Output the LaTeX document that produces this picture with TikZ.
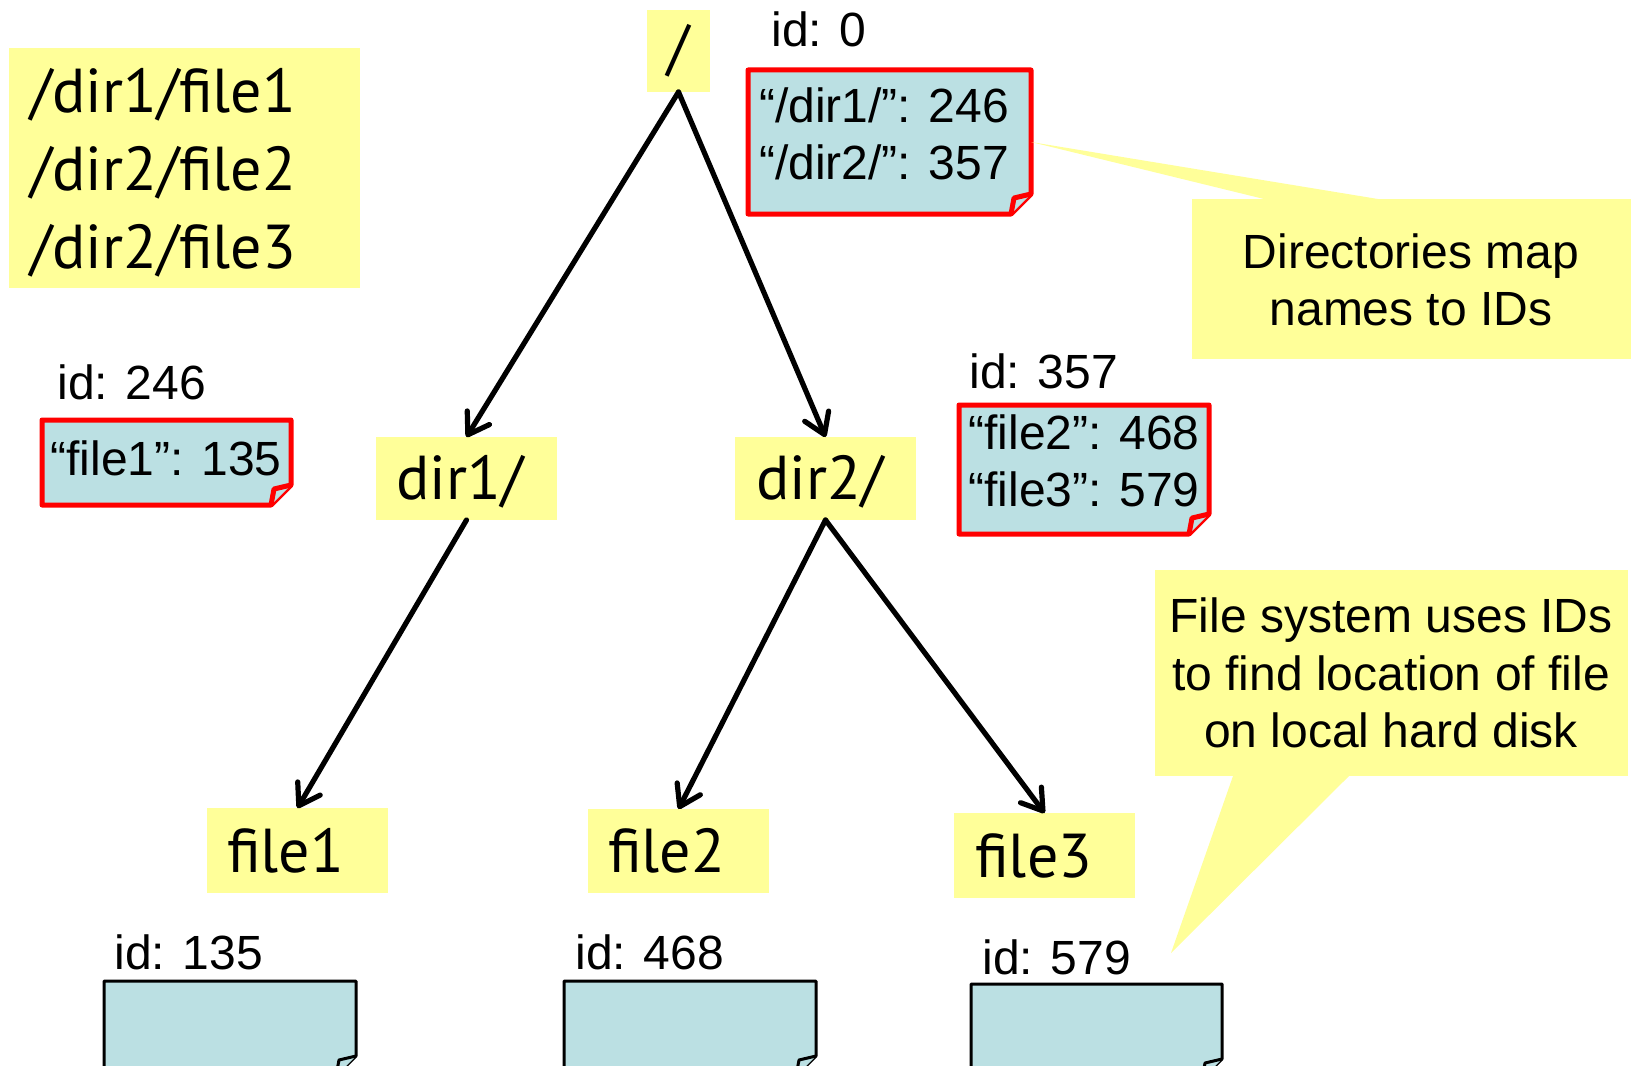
\documentclass[tikz,border=0pt]{standalone}
\usepackage{fontspec}
\setmainfont{Liberation Sans}
\newfontfamily\labelfont{PT Sans}
\usetikzlibrary{arrows.meta,fit,calc}
\definecolor{noteyellow}{HTML}{FFFF99}
\definecolor{noteblue}{HTML}{BBE0E3}
\definecolor{notered}{HTML}{FF0000}

% outline of a note with a dog-eared lower right corner
\newcommand\dogear[2]{%
  \draw[#2] (#1.north west) -- (#1.north east) -- ([yshift=10pt]#1.south east)
    -- ([xshift=-10pt]#1.south east) -- (#1.south west) -- cycle;
  \draw[#2] ([yshift=10pt]#1.south east) -- ([xshift=-8.5pt,yshift=8pt]#1.south east)
    -- ([xshift=-10pt]#1.south east);
}

\begin{document}
\begin{tikzpicture}[x=0.5pt,y=-0.5pt,
  area/.style={inner sep=0pt,outer sep=0pt},
  ybox/.style={area,fill=noteyellow},
  rednote/.style={draw=notered,line width=2.5pt,fill=noteblue,line join=round},
  blacknote/.style={draw=black,line width=1.5pt,fill=noteblue,line join=round},
  lbl/.style={inner sep=0pt,font=\labelfont\fontsize{31}{39}\selectfont},
  txt/.style={inner sep=0pt,font=\fontsize{24}{28.75}\selectfont},
  arr/.style={line width=2.6pt,line cap=round,
    -{Straight Barb[length=10pt,width=13pt,line width=2.6pt,round]}}]
\useasboundingbox (0,0) rectangle (1631,1065);
\clip (0,0) rectangle (1631,1065);

% list of full paths (anchored at the baseline of the last line)
\node[ybox,fit={(9,48) (360,288)}] (paths) {};
\node[lbl,anchor=base west,align=left] (pathtext) at (30,268)
  {/dir1/file1\\/dir2/file2\\/dir2/file3};

% tree nodes
\node[ybox,fit={(647,10) (710,92)}] (root) {};
\node[lbl] (roottext) at (678.5,51) {/};
\node[ybox,fit={(376,437) (557,520)}] (dir1) {};
\node[lbl,anchor=base west] (dir1text) at (396,499) {dir1/};
\node[ybox,fit={(735,437) (916,520)}] (dir2) {};
\node[lbl,anchor=base west] (dir2text) at (756,499) {dir2/};
\node[ybox,fit={(207,808) (388,893)}] (file1) {};
\node[lbl,anchor=base west] (file1text) at (227,872) {file1};
\node[ybox,fit={(588,809) (769,893)}] (file2) {};
\node[lbl,anchor=base west] (file2text) at (608,872) {file2};
\node[ybox,fit={(954,813) (1135,898)}] (file3) {};
\node[lbl,anchor=base west] (file3text) at (975,877) {file3};

% tree edges
\draw[arr] (root.south) -- (dir1.north);
\draw[arr] (root.south) -- (dir2.north);
\draw[arr] (dir1.south) -- (file1.north);
\draw[arr] (dir2.south) -- (file2.north);
\draw[arr] (dir2.south) -- (file3.north);

% directory contents
\node[txt,anchor=base west] (id0) at (771,47) {id: 0};
\node[area,fit={(748,70) (1031,214)}] (rootdir) {};
\dogear{rootdir}{rednote}
\node[txt,align=center] (rootdirtext) at (884,134)
  {“/dir1/”: 246\\“/dir2/”: 357};

\node[txt,anchor=base west] (id246) at (57,399) {id: 246};
\node[area,fit={(42,420) (291,505)}] (dir1dir) {};
\dogear{dir1dir}{rednote}
\node[txt,anchor=base] (dir1dirtext) at (166,475) {“file1”: 135};

\node[txt,anchor=base west] (id357) at (969,388) {id: 357};
\node[area,fit={(959,405) (1209,534)}] (dir2dir) {};
\dogear{dir2dir}{rednote}
\node[txt,align=center] (dir2dirtext) at (1084,461)
  {“file2”: 468\\“file3”: 579};

% file contents
\node[txt,anchor=base west] (id135) at (114,969) {id: 135};
\node[area,fit={(104,981) (356,1076)}] (data135) {};
\dogear{data135}{blacknote}
\node[txt,anchor=base west] (id468) at (575,969) {id: 468};
\node[area,fit={(564,981) (816,1076)}] (data468) {};
\dogear{data468}{blacknote}
\node[txt,anchor=base west] (id579) at (982,974) {id: 579};
\node[area,fit={(971,984) (1222,1079)}] (data579) {};
\dogear{data579}{blacknote}

% callouts
\node[ybox,fit={(1192,199) (1631,359)}] (mapnote) {};
\fill[noteyellow] ($(mapnote.north west)+(72,0)$) -- (rootdir.east)
  -- ($(mapnote.north west)+(186,0)$) -- cycle;
\node[txt,align=center] (maptext) at (1411,280) {Directories map\\names to IDs};

\coordinate (disktip) at (1171,953);
\node[ybox,fit={(1155,570) (1628,776)}] (disknote) {};
\fill[noteyellow] ($(disknote.south west)+(78,0)$) -- (disktip)
  -- ($(disknote.south west)+(194,0)$) -- cycle;
\node[txt,align=center] (disktext) at (1391,673)
  {File system uses IDs\\to find location of file\\on local hard disk};
\end{tikzpicture}
\end{document}
